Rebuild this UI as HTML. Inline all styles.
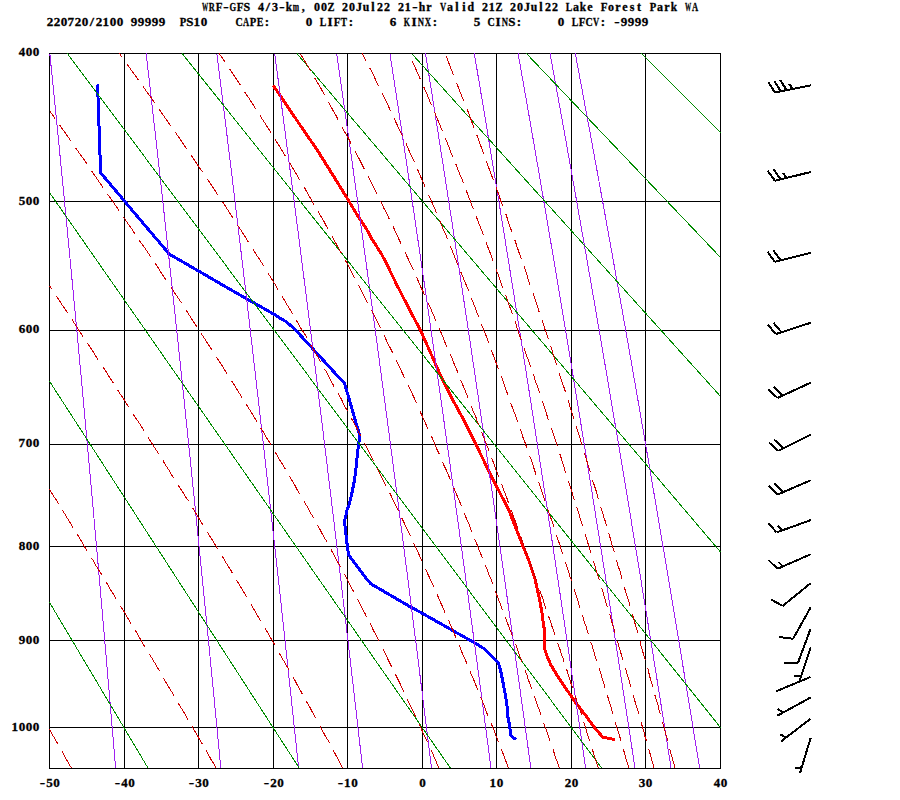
<!DOCTYPE html><html><head><meta charset="utf-8"><style>html,body{margin:0;padding:0;background:#fff;width:900px;height:800px;overflow:hidden}svg{display:block}</style></head><body><svg width="900" height="800" viewBox="0 0 900 800"><rect width="900" height="800" fill="#fff"/><path d="M124.5 53V768 M198.5 53V768 M273.5 53V768 M347.5 53V768 M422.5 53V768 M496.5 53V768 M571.5 53V768 M645.5 53V768 M49 201.5H720 M49 330.5H720 M49 444.5H720 M49 546.5H720 M49 640.5H720 M49 727.5H720" stroke="#000" stroke-width="1" fill="none" shape-rendering="crispEdges"/><rect x="49.5" y="53.5" width="671" height="715" stroke="#000" stroke-width="1" fill="none" shape-rendering="crispEdges"/><path d="M273.10 85.30 L286.60 105.00 L300.00 125.00 L317.20 150.00 L329.70 170.00 L337.50 182.50 L349.00 201.25 L357.20 215.00 L365.60 227.50 L372.50 240.00 L380.60 252.50 L384.70 260.00 L396.90 285.00 L409.40 309.40 L420.60 330.60 L431.25 354.40 L440.30 375.00 L452.50 399.40 L463.75 420.00 L475.60 443.75 L485.90 465.00 L497.80 488.75 L508.75 510.00 L518.10 533.75 L523.10 546.50 L529.10 561.25 L535.00 578.75 L536.90 587.50 L539.70 600.00 L541.90 612.50 L543.40 624.40 L544.40 629.40 L544.50 640.60 L544.40 648.10 L547.50 657.50 L550.90 665.00 L558.40 677.50 L566.90 690.00 L575.60 702.50 L587.20 717.50 L594.40 727.50 L601.90 736.25 L602.80 737.50 L607.50 738.10 L615.00 739.50" stroke="#f00" stroke-width="3" fill="none" stroke-linejoin="round" shape-rendering="crispEdges"/><path d="M97.50 84.50 L98.50 110.00 L99.50 140.00 L100.60 172.80 L124.70 201.25 L131.90 210.00 L153.10 235.00 L165.90 250.00 L168.10 253.10 L170.00 254.50 L198.50 271.00 L225.00 286.40 L245.25 298.00 L273.75 314.10 L280.00 318.25 L286.75 322.00 L296.10 330.60 L313.00 349.00 L325.90 363.10 L334.40 372.50 L344.40 382.80 L360.00 436.50 L358.50 444.50 L357.50 453.50 L356.50 463.00 L355.50 472.50 L354.50 480.00 L353.50 485.00 L351.50 495.00 L349.00 505.00 L347.00 510.00 L346.00 515.00 L344.50 521.50 L345.50 530.00 L346.25 537.50 L347.50 547.50 L348.50 554.75 L356.75 566.00 L366.50 578.75 L371.00 584.00 L381.50 590.00 L394.25 597.50 L411.00 607.25 L422.25 613.25 L449.25 628.60 L472.75 641.75 L483.25 648.10 L498.25 662.40 L500.50 670.00 L501.50 675.00 L503.50 685.00 L505.50 696.00 L507.50 709.00 L507.50 715.00 L509.00 722.50 L510.50 732.50 L511.00 736.00 L516.00 739.50" stroke="#00f" stroke-width="3" fill="none" stroke-linejoin="round" shape-rendering="crispEdges"/><path d="M49.80 53.50 L50.57 61.01 L51.37 68.94 L52.17 76.81 L52.95 84.61 L53.73 92.35 L54.50 100.02 L55.26 107.62 L56.02 115.17 L56.76 122.65 L57.50 130.07 L58.23 137.44 L58.95 144.75 L59.67 152.00 L60.38 159.19 L61.08 166.33 L61.78 173.42 L62.47 180.45 L63.15 187.44 L63.82 194.37 L64.49 201.25 L65.16 208.08 L65.82 214.87 L66.47 221.61 L67.11 228.30 L67.75 234.94 L68.39 241.54 L69.02 248.10 L69.64 254.61 L70.26 261.08 L70.87 267.51 L71.48 273.90 L72.09 280.24 L72.69 286.54 L73.28 292.81 L73.87 299.04 L74.45 305.22 L75.03 311.37 L75.61 317.48 L76.18 323.56 L76.75 329.60 L77.31 335.60 L77.87 341.57 L78.42 347.50 L78.97 353.40 L79.52 359.26 L80.06 365.09 L80.60 370.89 L81.13 376.65 L81.66 382.39 L82.19 388.09 L82.71 393.76 L83.23 399.40 L83.74 405.01 L84.26 410.59 L84.76 416.14 L85.27 421.66 L85.77 427.15 L86.27 432.61 L86.76 438.04 L87.26 443.45 L87.74 448.83 L88.23 454.18 L88.71 459.51 L89.19 464.80 L89.67 470.08 L90.14 475.32 L90.61 480.54 L91.08 485.74 L91.54 490.91 L92.01 496.05 L92.46 501.18 L92.92 506.27 L93.37 511.35 L93.83 516.40 L94.27 521.42 L94.72 526.42 L95.16 531.40 L95.60 536.36 L96.04 541.30 L96.48 546.21 L96.91 551.10 L97.34 555.97 L97.77 560.82 L98.19 565.65 L98.62 570.45 L99.04 575.24 L99.45 580.00 L99.87 584.75 L100.28 589.47 L100.70 594.17 L101.11 598.86 L101.51 603.52 L101.92 608.17 L102.32 612.80 L102.72 617.40 L103.12 621.99 L103.52 626.56 L103.91 631.11 L104.31 635.65 L104.70 640.16 L105.09 644.66 L105.47 649.14 L105.86 653.60 L106.24 658.05 L106.62 662.48 L107.00 666.89 L107.38 671.28 L107.75 675.66 L108.13 680.02 L108.50 684.36 L108.87 688.69 L109.24 693.00 L109.61 697.30 L109.97 701.58 L110.33 705.84 L110.70 710.09 L111.06 714.32 L111.41 718.54 L111.77 722.74 L112.13 726.93 L112.48 731.10 L112.83 735.26 L113.18 739.40 L113.53 743.53 L113.88 747.64 L114.22 751.74 L114.57 755.83 L114.91 759.90 L115.25 763.96 L115.59 768.00 M146.16 53.50 L147.02 61.01 L147.93 68.94 L148.83 76.81 L149.72 84.61 L150.60 92.35 L151.47 100.02 L152.33 107.62 L153.18 115.17 L154.02 122.65 L154.86 130.07 L155.68 137.44 L156.50 144.75 L157.31 152.00 L158.11 159.19 L158.91 166.33 L159.70 173.42 L160.48 180.45 L161.25 187.44 L162.01 194.37 L162.77 201.25 L163.52 208.08 L164.27 214.87 L165.01 221.61 L165.74 228.30 L166.46 234.94 L167.18 241.54 L167.90 248.10 L168.60 254.61 L169.30 261.08 L170.00 267.51 L170.69 273.90 L171.37 280.24 L172.05 286.54 L172.72 292.81 L173.39 299.04 L174.05 305.22 L174.71 311.37 L175.36 317.48 L176.01 323.56 L176.65 329.60 L177.29 335.60 L177.92 341.57 L178.55 347.50 L179.18 353.40 L179.80 359.26 L180.41 365.09 L181.02 370.89 L181.63 376.65 L182.23 382.39 L182.83 388.09 L183.42 393.76 L184.01 399.40 L184.59 405.01 L185.17 410.59 L185.75 416.14 L186.32 421.66 L186.89 427.15 L187.46 432.61 L188.02 438.04 L188.58 443.45 L189.14 448.83 L189.69 454.18 L190.24 459.51 L190.78 464.80 L191.32 470.08 L191.86 475.32 L192.39 480.54 L192.92 485.74 L193.45 490.91 L193.98 496.05 L194.50 501.18 L195.02 506.27 L195.53 511.35 L196.04 516.40 L196.55 521.42 L197.06 526.42 L197.56 531.40 L198.06 536.36 L198.56 541.30 L199.06 546.21 L199.55 551.10 L200.04 555.97 L200.53 560.82 L201.01 565.65 L201.49 570.45 L201.97 575.24 L202.45 580.00 L202.92 584.75 L203.39 589.47 L203.86 594.17 L204.32 598.86 L204.79 603.52 L205.25 608.17 L205.71 612.80 L206.16 617.40 L206.62 621.99 L207.07 626.56 L207.52 631.11 L207.97 635.65 L208.41 640.16 L208.85 644.66 L209.29 649.14 L209.73 653.60 L210.17 658.05 L210.60 662.48 L211.03 666.89 L211.46 671.28 L211.89 675.66 L212.32 680.02 L212.74 684.36 L213.16 688.69 L213.58 693.00 L214.00 697.30 L214.42 701.58 L214.83 705.84 L215.24 710.09 L215.65 714.32 L216.06 718.54 L216.47 722.74 L216.87 726.93 L217.27 731.10 L217.67 735.26 L218.07 739.40 L218.47 743.53 L218.87 747.64 L219.26 751.74 L219.65 755.83 L220.04 759.90 L220.43 763.96 L220.82 768.00 M216.86 53.50 L217.80 61.01 L218.79 68.94 L219.77 76.81 L220.74 84.61 L221.70 92.35 L222.65 100.02 L223.59 107.62 L224.52 115.17 L225.44 122.65 L226.35 130.07 L227.26 137.44 L228.15 144.75 L229.04 152.00 L229.91 159.19 L230.78 166.33 L231.64 173.42 L232.49 180.45 L233.34 187.44 L234.17 194.37 L235.00 201.25 L235.83 208.08 L236.64 214.87 L237.45 221.61 L238.25 228.30 L239.04 234.94 L239.83 241.54 L240.61 248.10 L241.38 254.61 L242.15 261.08 L242.91 267.51 L243.66 273.90 L244.41 280.24 L245.15 286.54 L245.89 292.81 L246.62 299.04 L247.34 305.22 L248.06 311.37 L248.78 317.48 L249.49 323.56 L250.19 329.60 L250.89 335.60 L251.58 341.57 L252.27 347.50 L252.95 353.40 L253.63 359.26 L254.30 365.09 L254.97 370.89 L255.63 376.65 L256.29 382.39 L256.94 388.09 L257.59 393.76 L258.24 399.40 L258.88 405.01 L259.52 410.59 L260.15 416.14 L260.78 421.66 L261.40 427.15 L262.02 432.61 L262.64 438.04 L263.25 443.45 L263.86 448.83 L264.46 454.18 L265.06 459.51 L265.66 464.80 L266.25 470.08 L266.84 475.32 L267.43 480.54 L268.01 485.74 L268.59 490.91 L269.16 496.05 L269.73 501.18 L270.30 506.27 L270.87 511.35 L271.43 516.40 L271.99 521.42 L272.54 526.42 L273.09 531.40 L273.64 536.36 L274.19 541.30 L274.73 546.21 L275.27 551.10 L275.81 555.97 L276.34 560.82 L276.87 565.65 L277.40 570.45 L277.92 575.24 L278.45 580.00 L278.97 584.75 L279.48 589.47 L280.00 594.17 L280.51 598.86 L281.02 603.52 L281.52 608.17 L282.03 612.80 L282.53 617.40 L283.02 621.99 L283.52 626.56 L284.01 631.11 L284.50 635.65 L284.99 640.16 L285.48 644.66 L285.96 649.14 L286.44 653.60 L286.92 658.05 L287.40 662.48 L287.87 666.89 L288.34 671.28 L288.81 675.66 L289.28 680.02 L289.74 684.36 L290.21 688.69 L290.67 693.00 L291.13 697.30 L291.58 701.58 L292.04 705.84 L292.49 710.09 L292.94 714.32 L293.39 718.54 L293.83 722.74 L294.28 726.93 L294.72 731.10 L295.16 735.26 L295.60 739.40 L296.04 743.53 L296.47 747.64 L296.90 751.74 L297.33 755.83 L297.76 759.90 L298.19 763.96 L298.61 768.00 M274.66 53.50 L275.67 61.01 L276.73 68.94 L277.79 76.81 L278.83 84.61 L279.86 92.35 L280.88 100.02 L281.89 107.62 L282.88 115.17 L283.87 122.65 L284.85 130.07 L285.82 137.44 L286.78 144.75 L287.73 152.00 L288.67 159.19 L289.60 166.33 L290.53 173.42 L291.44 180.45 L292.35 187.44 L293.25 194.37 L294.14 201.25 L295.02 208.08 L295.89 214.87 L296.76 221.61 L297.62 228.30 L298.47 234.94 L299.32 241.54 L300.15 248.10 L300.98 254.61 L301.81 261.08 L302.62 267.51 L303.43 273.90 L304.24 280.24 L305.04 286.54 L305.83 292.81 L306.61 299.04 L307.39 305.22 L308.16 311.37 L308.93 317.48 L309.69 323.56 L310.45 329.60 L311.20 335.60 L311.94 341.57 L312.68 347.50 L313.42 353.40 L314.15 359.26 L314.87 365.09 L315.59 370.89 L316.30 376.65 L317.01 382.39 L317.71 388.09 L318.41 393.76 L319.10 399.40 L319.79 405.01 L320.48 410.59 L321.16 416.14 L321.83 421.66 L322.50 427.15 L323.17 432.61 L323.83 438.04 L324.49 443.45 L325.15 448.83 L325.80 454.18 L326.44 459.51 L327.08 464.80 L327.72 470.08 L328.36 475.32 L328.99 480.54 L329.61 485.74 L330.23 490.91 L330.85 496.05 L331.47 501.18 L332.08 506.27 L332.69 511.35 L333.29 516.40 L333.89 521.42 L334.49 526.42 L335.08 531.40 L335.67 536.36 L336.26 541.30 L336.85 546.21 L337.43 551.10 L338.00 555.97 L338.58 560.82 L339.15 565.65 L339.72 570.45 L340.28 575.24 L340.85 580.00 L341.40 584.75 L341.96 589.47 L342.51 594.17 L343.06 598.86 L343.61 603.52 L344.16 608.17 L344.70 612.80 L345.24 617.40 L345.77 621.99 L346.31 626.56 L346.84 631.11 L347.37 635.65 L347.89 640.16 L348.42 644.66 L348.94 649.14 L349.46 653.60 L349.97 658.05 L350.48 662.48 L350.99 666.89 L351.50 671.28 L352.01 675.66 L352.51 680.02 L353.01 684.36 L353.51 688.69 L354.01 693.00 L354.50 697.30 L354.99 701.58 L355.48 705.84 L355.97 710.09 L356.45 714.32 L356.94 718.54 L357.42 722.74 L357.90 726.93 L358.37 731.10 L358.85 735.26 L359.32 739.40 L359.79 743.53 L360.26 747.64 L360.72 751.74 L361.19 755.83 L361.65 759.90 L362.11 763.96 L362.57 768.00 M336.62 53.50 L337.71 61.01 L338.85 68.94 L339.98 76.81 L341.11 84.61 L342.21 92.35 L343.31 100.02 L344.40 107.62 L345.47 115.17 L346.54 122.65 L347.59 130.07 L348.63 137.44 L349.67 144.75 L350.69 152.00 L351.70 159.19 L352.71 166.33 L353.70 173.42 L354.69 180.45 L355.67 187.44 L356.63 194.37 L357.59 201.25 L358.54 208.08 L359.48 214.87 L360.42 221.61 L361.34 228.30 L362.26 234.94 L363.17 241.54 L364.07 248.10 L364.97 254.61 L365.86 261.08 L366.74 267.51 L367.61 273.90 L368.48 280.24 L369.34 286.54 L370.19 292.81 L371.04 299.04 L371.88 305.22 L372.71 311.37 L373.54 317.48 L374.36 323.56 L375.17 329.60 L375.98 335.60 L376.79 341.57 L377.58 347.50 L378.37 353.40 L379.16 359.26 L379.94 365.09 L380.72 370.89 L381.48 376.65 L382.25 382.39 L383.01 388.09 L383.76 393.76 L384.51 399.40 L385.25 405.01 L385.99 410.59 L386.72 416.14 L387.45 421.66 L388.18 427.15 L388.90 432.61 L389.61 438.04 L390.32 443.45 L391.03 448.83 L391.73 454.18 L392.43 459.51 L393.12 464.80 L393.81 470.08 L394.49 475.32 L395.17 480.54 L395.85 485.74 L396.52 490.91 L397.19 496.05 L397.85 501.18 L398.51 506.27 L399.17 511.35 L399.82 516.40 L400.47 521.42 L401.11 526.42 L401.76 531.40 L402.39 536.36 L403.03 541.30 L403.66 546.21 L404.29 551.10 L404.91 555.97 L405.53 560.82 L406.15 565.65 L406.76 570.45 L407.37 575.24 L407.98 580.00 L408.58 584.75 L409.18 589.47 L409.78 594.17 L410.38 598.86 L410.97 603.52 L411.56 608.17 L412.14 612.80 L412.72 617.40 L413.30 621.99 L413.88 626.56 L414.45 631.11 L415.02 635.65 L415.59 640.16 L416.16 644.66 L416.72 649.14 L417.28 653.60 L417.84 658.05 L418.39 662.48 L418.94 666.89 L419.49 671.28 L420.04 675.66 L420.58 680.02 L421.12 684.36 L421.66 688.69 L422.20 693.00 L422.73 697.30 L423.26 701.58 L423.79 705.84 L424.32 710.09 L424.84 714.32 L425.37 718.54 L425.89 722.74 L426.40 726.93 L426.92 731.10 L427.43 735.26 L427.94 739.40 L428.45 743.53 L428.96 747.64 L429.46 751.74 L429.96 755.83 L430.46 759.90 L430.96 763.96 L431.45 768.00 M389.93 53.50 L391.08 61.01 L392.30 68.94 L393.50 76.81 L394.70 84.61 L395.88 92.35 L397.04 100.02 L398.20 107.62 L399.34 115.17 L400.47 122.65 L401.60 130.07 L402.71 137.44 L403.80 144.75 L404.89 152.00 L405.97 159.19 L407.04 166.33 L408.10 173.42 L409.15 180.45 L410.19 187.44 L411.22 194.37 L412.24 201.25 L413.25 208.08 L414.25 214.87 L415.25 221.61 L416.23 228.30 L417.21 234.94 L418.18 241.54 L419.14 248.10 L420.09 254.61 L421.04 261.08 L421.97 267.51 L422.91 273.90 L423.83 280.24 L424.74 286.54 L425.65 292.81 L426.55 299.04 L427.45 305.22 L428.34 311.37 L429.22 317.48 L430.09 323.56 L430.96 329.60 L431.82 335.60 L432.68 341.57 L433.52 347.50 L434.37 353.40 L435.20 359.26 L436.04 365.09 L436.86 370.89 L437.68 376.65 L438.49 382.39 L439.30 388.09 L440.11 393.76 L440.90 399.40 L441.70 405.01 L442.48 410.59 L443.26 416.14 L444.04 421.66 L444.81 427.15 L445.58 432.61 L446.34 438.04 L447.10 443.45 L447.85 448.83 L448.60 454.18 L449.34 459.51 L450.08 464.80 L450.81 470.08 L451.54 475.32 L452.27 480.54 L452.99 485.74 L453.70 490.91 L454.42 496.05 L455.12 501.18 L455.83 506.27 L456.53 511.35 L457.22 516.40 L457.92 521.42 L458.60 526.42 L459.29 531.40 L459.97 536.36 L460.64 541.30 L461.32 546.21 L461.99 551.10 L462.65 555.97 L463.31 560.82 L463.97 565.65 L464.62 570.45 L465.28 575.24 L465.92 580.00 L466.57 584.75 L467.21 589.47 L467.85 594.17 L468.48 598.86 L469.11 603.52 L469.74 608.17 L470.36 612.80 L470.98 617.40 L471.60 621.99 L472.22 626.56 L472.83 631.11 L473.44 635.65 L474.04 640.16 L474.65 644.66 L475.25 649.14 L475.85 653.60 L476.44 658.05 L477.03 662.48 L477.62 666.89 L478.21 671.28 L478.79 675.66 L479.37 680.02 L479.95 684.36 L480.52 688.69 L481.09 693.00 L481.66 697.30 L482.23 701.58 L482.80 705.84 L483.36 710.09 L483.92 714.32 L484.48 718.54 L485.03 722.74 L485.58 726.93 L486.13 731.10 L486.68 735.26 L487.22 739.40 L487.77 743.53 L488.31 747.64 L488.85 751.74 L489.38 755.83 L489.91 759.90 L490.45 763.96 L490.97 768.00 M425.50 53.50 L426.70 61.01 L427.97 68.94 L429.22 76.81 L430.47 84.61 L431.69 92.35 L432.91 100.02 L434.11 107.62 L435.30 115.17 L436.48 122.65 L437.65 130.07 L438.80 137.44 L439.95 144.75 L441.08 152.00 L442.21 159.19 L443.32 166.33 L444.42 173.42 L445.51 180.45 L446.60 187.44 L447.67 194.37 L448.73 201.25 L449.79 208.08 L450.83 214.87 L451.87 221.61 L452.89 228.30 L453.91 234.94 L454.92 241.54 L455.92 248.10 L456.91 254.61 L457.90 261.08 L458.88 267.51 L459.84 273.90 L460.81 280.24 L461.76 286.54 L462.71 292.81 L463.65 299.04 L464.58 305.22 L465.50 311.37 L466.42 317.48 L467.33 323.56 L468.24 329.60 L469.13 335.60 L470.03 341.57 L470.91 347.50 L471.79 353.40 L472.66 359.26 L473.53 365.09 L474.39 370.89 L475.24 376.65 L476.09 382.39 L476.93 388.09 L477.77 393.76 L478.60 399.40 L479.43 405.01 L480.25 410.59 L481.06 416.14 L481.87 421.66 L482.68 427.15 L483.47 432.61 L484.27 438.04 L485.06 443.45 L485.84 448.83 L486.62 454.18 L487.40 459.51 L488.17 464.80 L488.93 470.08 L489.69 475.32 L490.45 480.54 L491.20 485.74 L491.95 490.91 L492.69 496.05 L493.43 501.18 L494.16 506.27 L494.89 511.35 L495.61 516.40 L496.34 521.42 L497.05 526.42 L497.77 531.40 L498.48 536.36 L499.18 541.30 L499.88 546.21 L500.58 551.10 L501.27 555.97 L501.96 560.82 L502.65 565.65 L503.33 570.45 L504.01 575.24 L504.69 580.00 L505.36 584.75 L506.03 589.47 L506.69 594.17 L507.35 598.86 L508.01 603.52 L508.67 608.17 L509.32 612.80 L509.97 617.40 L510.61 621.99 L511.25 626.56 L511.89 631.11 L512.53 635.65 L513.16 640.16 L513.79 644.66 L514.41 649.14 L515.04 653.60 L515.66 658.05 L516.27 662.48 L516.89 666.89 L517.50 671.28 L518.11 675.66 L518.71 680.02 L519.31 684.36 L519.91 688.69 L520.51 693.00 L521.11 697.30 L521.70 701.58 L522.29 705.84 L522.87 710.09 L523.46 714.32 L524.04 718.54 L524.62 722.74 L525.19 726.93 L525.77 731.10 L526.34 735.26 L526.91 739.40 L527.47 743.53 L528.04 747.64 L528.60 751.74 L529.16 755.83 L529.71 759.90 L530.27 763.96 L530.82 768.00 M474.30 53.50 L475.57 61.01 L476.90 68.94 L478.23 76.81 L479.54 84.61 L480.83 92.35 L482.12 100.02 L483.39 107.62 L484.65 115.17 L485.89 122.65 L487.12 130.07 L488.34 137.44 L489.55 144.75 L490.75 152.00 L491.93 159.19 L493.11 166.33 L494.27 173.42 L495.43 180.45 L496.57 187.44 L497.70 194.37 L498.83 201.25 L499.94 208.08 L501.04 214.87 L502.14 221.61 L503.22 228.30 L504.30 234.94 L505.36 241.54 L506.42 248.10 L507.47 254.61 L508.51 261.08 L509.54 267.51 L510.56 273.90 L511.58 280.24 L512.59 286.54 L513.59 292.81 L514.58 299.04 L515.57 305.22 L516.54 311.37 L517.51 317.48 L518.48 323.56 L519.43 329.60 L520.38 335.60 L521.32 341.57 L522.26 347.50 L523.19 353.40 L524.11 359.26 L525.02 365.09 L525.93 370.89 L526.84 376.65 L527.73 382.39 L528.62 388.09 L529.51 393.76 L530.39 399.40 L531.26 405.01 L532.13 410.59 L532.99 416.14 L533.84 421.66 L534.69 427.15 L535.54 432.61 L536.38 438.04 L537.21 443.45 L538.04 448.83 L538.87 454.18 L539.69 459.51 L540.50 464.80 L541.31 470.08 L542.11 475.32 L542.91 480.54 L543.71 485.74 L544.50 490.91 L545.28 496.05 L546.06 501.18 L546.84 506.27 L547.61 511.35 L548.38 516.40 L549.14 521.42 L549.90 526.42 L550.65 531.40 L551.40 536.36 L552.15 541.30 L552.89 546.21 L553.63 551.10 L554.36 555.97 L555.09 560.82 L555.82 565.65 L556.54 570.45 L557.26 575.24 L557.97 580.00 L558.68 584.75 L559.39 589.47 L560.10 594.17 L560.80 598.86 L561.49 603.52 L562.18 608.17 L562.87 612.80 L563.56 617.40 L564.24 621.99 L564.92 626.56 L565.60 631.11 L566.27 635.65 L566.94 640.16 L567.60 644.66 L568.27 649.14 L568.92 653.60 L569.58 658.05 L570.23 662.48 L570.88 666.89 L571.53 671.28 L572.17 675.66 L572.82 680.02 L573.45 684.36 L574.09 688.69 L574.72 693.00 L575.35 697.30 L575.98 701.58 L576.60 705.84 L577.22 710.09 L577.84 714.32 L578.45 718.54 L579.07 722.74 L579.68 726.93 L580.28 731.10 L580.89 735.26 L581.49 739.40 L582.09 743.53 L582.69 747.64 L583.28 751.74 L583.87 755.83 L584.46 759.90 L585.05 763.96 L585.63 768.00 M518.10 53.50 L519.43 61.01 L520.83 68.94 L522.22 76.81 L523.59 84.61 L524.95 92.35 L526.30 100.02 L527.63 107.62 L528.95 115.17 L530.25 122.65 L531.54 130.07 L532.82 137.44 L534.09 144.75 L535.35 152.00 L536.59 159.19 L537.82 166.33 L539.05 173.42 L540.25 180.45 L541.45 187.44 L542.64 194.37 L543.82 201.25 L544.99 208.08 L546.14 214.87 L547.29 221.61 L548.43 228.30 L549.56 234.94 L550.68 241.54 L551.79 248.10 L552.89 254.61 L553.98 261.08 L555.06 267.51 L556.14 273.90 L557.20 280.24 L558.26 286.54 L559.31 292.81 L560.35 299.04 L561.38 305.22 L562.41 311.37 L563.43 317.48 L564.44 323.56 L565.44 329.60 L566.44 335.60 L567.43 341.57 L568.41 347.50 L569.38 353.40 L570.35 359.26 L571.31 365.09 L572.26 370.89 L573.21 376.65 L574.15 382.39 L575.09 388.09 L576.02 393.76 L576.94 399.40 L577.86 405.01 L578.77 410.59 L579.67 416.14 L580.57 421.66 L581.46 427.15 L582.35 432.61 L583.23 438.04 L584.11 443.45 L584.98 448.83 L585.84 454.18 L586.70 459.51 L587.56 464.80 L588.41 470.08 L589.25 475.32 L590.09 480.54 L590.93 485.74 L591.76 490.91 L592.58 496.05 L593.40 501.18 L594.22 506.27 L595.03 511.35 L595.83 516.40 L596.63 521.42 L597.43 526.42 L598.22 531.40 L599.01 536.36 L599.79 541.30 L600.57 546.21 L601.35 551.10 L602.12 555.97 L602.88 560.82 L603.65 565.65 L604.41 570.45 L605.16 575.24 L605.91 580.00 L606.66 584.75 L607.40 589.47 L608.14 594.17 L608.87 598.86 L609.61 603.52 L610.33 608.17 L611.06 612.80 L611.78 617.40 L612.50 621.99 L613.21 626.56 L613.92 631.11 L614.62 635.65 L615.33 640.16 L616.03 644.66 L616.72 649.14 L617.42 653.60 L618.11 658.05 L618.79 662.48 L619.47 666.89 L620.15 671.28 L620.83 675.66 L621.50 680.02 L622.18 684.36 L622.84 688.69 L623.51 693.00 L624.17 697.30 L624.83 701.58 L625.48 705.84 L626.13 710.09 L626.78 714.32 L627.43 718.54 L628.07 722.74 L628.72 726.93 L629.35 731.10 L629.99 735.26 L630.62 739.40 L631.25 743.53 L631.88 747.64 L632.50 751.74 L633.13 755.83 L633.74 759.90 L634.36 763.96 L634.98 768.00 M550.06 53.50 L551.43 61.01 L552.88 68.94 L554.32 76.81 L555.74 84.61 L557.15 92.35 L558.54 100.02 L559.91 107.62 L561.28 115.17 L562.63 122.65 L563.97 130.07 L565.29 137.44 L566.60 144.75 L567.90 152.00 L569.19 159.19 L570.46 166.33 L571.73 173.42 L572.98 180.45 L574.22 187.44 L575.45 194.37 L576.67 201.25 L577.87 208.08 L579.07 214.87 L580.26 221.61 L581.44 228.30 L582.60 234.94 L583.76 241.54 L584.91 248.10 L586.05 254.61 L587.18 261.08 L588.30 267.51 L589.41 273.90 L590.52 280.24 L591.61 286.54 L592.70 292.81 L593.77 299.04 L594.84 305.22 L595.91 311.37 L596.96 317.48 L598.00 323.56 L599.04 329.60 L600.07 335.60 L601.10 341.57 L602.11 347.50 L603.12 353.40 L604.12 359.26 L605.12 365.09 L606.11 370.89 L607.09 376.65 L608.06 382.39 L609.03 388.09 L609.99 393.76 L610.95 399.40 L611.90 405.01 L612.84 410.59 L613.78 416.14 L614.71 421.66 L615.63 427.15 L616.55 432.61 L617.46 438.04 L618.37 443.45 L619.27 448.83 L620.17 454.18 L621.06 459.51 L621.94 464.80 L622.82 470.08 L623.70 475.32 L624.56 480.54 L625.43 485.74 L626.29 490.91 L627.14 496.05 L627.99 501.18 L628.83 506.27 L629.67 511.35 L630.51 516.40 L631.34 521.42 L632.16 526.42 L632.98 531.40 L633.80 536.36 L634.61 541.30 L635.42 546.21 L636.22 551.10 L637.02 555.97 L637.81 560.82 L638.60 565.65 L639.39 570.45 L640.17 575.24 L640.95 580.00 L641.72 584.75 L642.49 589.47 L643.26 594.17 L644.02 598.86 L644.78 603.52 L645.53 608.17 L646.28 612.80 L647.03 617.40 L647.77 621.99 L648.51 626.56 L649.24 631.11 L649.97 635.65 L650.70 640.16 L651.43 644.66 L652.15 649.14 L652.87 653.60 L653.58 658.05 L654.29 662.48 L655.00 666.89 L655.70 671.28 L656.40 675.66 L657.10 680.02 L657.80 684.36 L658.49 688.69 L659.18 693.00 L659.86 697.30 L660.54 701.58 L661.22 705.84 L661.90 710.09 L662.57 714.32 L663.24 718.54 L663.91 722.74 L664.57 726.93 L665.23 731.10 L665.89 735.26 L666.55 739.40 L667.20 743.53 L667.85 747.64 L668.50 751.74 L669.14 755.83 L669.78 759.90 L670.42 763.96 L671.06 768.00 M575.29 53.50 L576.70 61.01 L578.19 68.94 L579.66 76.81 L581.12 84.61 L582.56 92.35 L583.99 100.02 L585.41 107.62 L586.81 115.17 L588.19 122.65 L589.57 130.07 L590.93 137.44 L592.27 144.75 L593.61 152.00 L594.93 159.19 L596.24 166.33 L597.54 173.42 L598.82 180.45 L600.09 187.44 L601.36 194.37 L602.61 201.25 L603.85 208.08 L605.08 214.87 L606.30 221.61 L607.51 228.30 L608.71 234.94 L609.90 241.54 L611.07 248.10 L612.24 254.61 L613.40 261.08 L614.56 267.51 L615.70 273.90 L616.83 280.24 L617.96 286.54 L619.07 292.81 L620.18 299.04 L621.28 305.22 L622.37 311.37 L623.45 317.48 L624.52 323.56 L625.59 329.60 L626.65 335.60 L627.70 341.57 L628.74 347.50 L629.78 353.40 L630.81 359.26 L631.83 365.09 L632.85 370.89 L633.85 376.65 L634.86 382.39 L635.85 388.09 L636.84 393.76 L637.82 399.40 L638.79 405.01 L639.76 410.59 L640.72 416.14 L641.68 421.66 L642.63 427.15 L643.57 432.61 L644.51 438.04 L645.44 443.45 L646.37 448.83 L647.29 454.18 L648.20 459.51 L649.11 464.80 L650.02 470.08 L650.92 475.32 L651.81 480.54 L652.70 485.74 L653.58 490.91 L654.46 496.05 L655.33 501.18 L656.20 506.27 L657.06 511.35 L657.92 516.40 L658.77 521.42 L659.62 526.42 L660.46 531.40 L661.30 536.36 L662.13 541.30 L662.96 546.21 L663.79 551.10 L664.61 555.97 L665.42 560.82 L666.24 565.65 L667.04 570.45 L667.85 575.24 L668.64 580.00 L669.44 584.75 L670.23 589.47 L671.02 594.17 L671.80 598.86 L672.58 603.52 L673.35 608.17 L674.12 612.80 L674.89 617.40 L675.65 621.99 L676.41 626.56 L677.17 631.11 L677.92 635.65 L678.67 640.16 L679.41 644.66 L680.16 649.14 L680.89 653.60 L681.63 658.05 L682.36 662.48 L683.08 666.89 L683.81 671.28 L684.53 675.66 L685.25 680.02 L685.96 684.36 L686.67 688.69 L687.38 693.00 L688.08 697.30 L688.78 701.58 L689.48 705.84 L690.18 710.09 L690.87 714.32 L691.56 718.54 L692.24 722.74 L692.93 726.93 L693.61 731.10 L694.28 735.26 L694.96 739.40 L695.63 743.53 L696.30 747.64 L696.96 751.74 L697.62 755.83 L698.28 759.90 L698.94 763.96 L699.59 768.00" stroke="#a020f0" stroke-width="1" fill="none" shape-rendering="crispEdges"/><path d="M49.50 602.39 L147.98 768.00 M49.50 381.28 L299.19 768.00 M49.50 192.55 L450.40 768.00 M67.39 53.50 L601.60 768.00 M182.15 53.50 L720.50 727.55 M296.91 53.50 L720.50 552.02 M411.67 53.50 L720.50 396.37 M526.44 53.50 L720.50 257.41 M641.20 53.50 L720.50 132.59" stroke="#008b00" stroke-width="1" fill="none" shape-rendering="crispEdges"/><g stroke="#cd0000" stroke-width="1" fill="none" stroke-dasharray="20 8" shape-rendering="crispEdges"><path d="M71.50 768.00 L68.88 763.96 L66.69 759.90 L64.51 755.83 L62.32 751.74 L59.70 747.64 L57.52 743.53 L55.33 739.40 L52.71 735.26 L50.53 731.10 L49.50 729.13"/><path d="M216.09 768.00 L213.91 763.96 L211.29 759.90 L209.11 755.83 L206.92 751.74 L204.30 747.64 L202.12 743.53 L199.49 739.40 L197.31 735.26 L194.69 731.10 L192.50 726.93 L189.88 722.74 L187.26 718.54 L185.08 714.32 L182.46 710.09 L179.84 705.84 L177.22 701.58 L175.03 697.30 L172.41 693.00 L169.79 688.69 L167.17 684.36 L164.55 680.02 L161.93 675.66 L159.74 671.28 L157.12 666.89 L154.50 662.48 L151.88 658.05 L148.82 653.60 L146.20 649.14 L143.58 644.66 L140.96 640.16 L138.34 635.65 L135.71 631.11 L132.66 626.56 L130.04 621.99 L127.41 617.40 L124.79 612.80 L121.74 608.17 L119.11 603.52 L116.06 598.86 L113.44 594.17 L110.38 589.47 L107.76 584.75 L104.70 580.00 L102.08 575.24 L99.02 570.45 L95.96 565.65 L93.34 560.82 L90.28 555.97 L87.22 551.10 L84.17 546.21 L81.55 541.30 L78.49 536.36 L75.43 531.40 L72.37 526.42 L69.31 521.42 L66.26 516.40 L63.20 511.35 L60.14 506.27 L57.08 501.18 L53.59 496.05 L50.53 490.91 L49.50 489.17"/><path d="M342.34 768.00 L340.60 763.96 L338.41 759.90 L336.23 755.83 L334.04 751.74 L331.86 747.64 L329.68 743.53 L327.49 739.40 L324.87 735.26 L322.69 731.10 L320.50 726.93 L318.32 722.74 L316.13 718.54 L313.51 714.32 L311.33 710.09 L309.14 705.84 L306.52 701.58 L304.34 697.30 L301.72 693.00 L299.53 688.69 L296.91 684.36 L294.73 680.02 L292.11 675.66 L289.49 671.28 L287.30 666.89 L284.68 662.48 L282.06 658.05 L279.44 653.60 L277.25 649.14 L274.63 644.66 L272.01 640.16 L269.39 635.65 L266.77 631.11 L264.15 626.56 L261.53 621.99 L258.47 617.40 L255.85 612.80 L253.23 608.17 L250.61 603.52 L247.55 598.86 L244.93 594.17 L242.31 589.47 L239.25 584.75 L236.63 580.00 L233.57 575.24 L230.95 570.45 L227.89 565.65 L224.83 560.82 L222.21 555.97 L219.15 551.10 L216.09 546.21 L213.04 541.30 L209.98 536.36 L206.92 531.40 L203.86 526.42 L200.81 521.42 L197.75 516.40 L194.69 511.35 L191.63 506.27 L188.57 501.18 L185.08 496.05 L182.02 490.91 L178.53 485.74 L175.47 480.54 L171.97 475.32 L168.92 470.08 L165.42 464.80 L162.36 459.51 L158.87 454.18 L155.37 448.83 L151.88 443.45 L148.38 438.04 L145.33 432.61 L141.83 427.15 L138.34 421.66 L134.40 416.14 L130.91 410.59 L127.41 405.01 L123.92 399.40 L119.99 393.76 L116.49 388.09 L113.00 382.39 L109.07 376.65 L105.57 370.89 L101.64 365.09 L97.71 359.26 L94.21 353.40 L90.28 347.50 L86.35 341.57 L82.42 335.60 L78.49 329.60 L74.56 323.56 L70.62 317.48 L66.69 311.37 L62.32 305.22 L58.39 299.04 L54.46 292.81 L50.09 286.54 L49.50 285.60"/><path d="M438.89 768.00 L437.14 763.96 L435.39 759.90 L433.65 755.83 L431.90 751.74 L429.71 747.64 L427.97 743.53 L426.22 739.40 L424.03 735.26 L422.29 731.10 L420.54 726.93 L418.36 722.74 L416.61 718.54 L414.42 714.32 L412.68 710.09 L410.49 705.84 L408.31 701.58 L406.56 697.30 L404.38 693.00 L402.19 688.69 L400.44 684.36 L398.26 680.02 L396.08 675.66 L393.89 671.28 L391.71 666.89 L389.52 662.48 L387.34 658.05 L385.16 653.60 L382.97 649.14 L380.79 644.66 L378.60 640.16 L376.42 635.65 L373.80 631.11 L371.61 626.56 L369.43 621.99 L366.81 617.40 L364.62 612.80 L362.00 608.17 L359.82 603.52 L357.20 598.86 L355.01 594.17 L352.39 589.47 L349.77 584.75 L347.59 580.00 L344.97 575.24 L342.34 570.45 L339.72 565.65 L337.10 560.82 L334.48 555.97 L331.86 551.10 L329.24 546.21 L326.62 541.30 L323.56 536.36 L320.94 531.40 L318.32 526.42 L315.26 521.42 L312.64 516.40 L309.58 511.35 L306.96 506.27 L303.90 501.18 L300.84 496.05 L297.79 490.91 L295.16 485.74 L292.11 480.54 L289.05 475.32 L285.99 470.08 L282.93 464.80 L279.44 459.51 L276.38 454.18 L273.32 448.83 L270.26 443.45 L266.77 438.04 L263.71 432.61 L260.22 427.15 L256.72 421.66 L253.66 416.14 L250.17 410.59 L246.67 405.01 L243.18 399.40 L239.68 393.76 L236.19 388.09 L232.69 382.39 L228.76 376.65 L225.27 370.89 L221.77 365.09 L217.84 359.26 L214.35 353.40 L210.42 347.50 L206.48 341.57 L202.55 335.60 L198.62 329.60 L194.69 323.56 L190.76 317.48 L186.83 311.37 L182.89 305.22 L178.96 299.04 L174.59 292.81 L170.66 286.54 L166.29 280.24 L161.93 273.90 L157.99 267.51 L153.63 261.08 L149.26 254.61 L144.89 248.10 L140.08 241.54 L135.71 234.94 L131.35 228.30 L126.54 221.61 L122.17 214.87 L117.37 208.08 L112.56 201.25 L107.76 194.37 L102.95 187.44 L98.15 180.45 L93.34 173.42 L88.53 166.33 L83.73 159.19 L78.49 152.00 L73.25 144.75 L68.44 137.44 L63.20 130.07 L57.96 122.65 L52.71 115.17 L49.50 110.54"/><path d="M508.35 768.00 L507.04 763.96 L505.29 759.90 L503.98 755.83 L502.23 751.74 L500.48 747.64 L499.17 743.53 L497.43 739.40 L495.68 735.26 L494.37 731.10 L492.62 726.93 L490.87 722.74 L489.13 718.54 L487.38 714.32 L485.63 710.09 L484.32 705.84 L482.57 701.58 L480.83 697.30 L479.08 693.00 L477.33 688.69 L475.58 684.36 L473.84 680.02 L471.65 675.66 L469.90 671.28 L468.16 666.89 L466.41 662.48 L464.66 658.05 L462.48 653.60 L460.73 649.14 L458.98 644.66 L456.80 640.16 L455.05 635.65 L453.30 631.11 L451.12 626.56 L449.37 621.99 L447.19 617.40 L445.00 612.80 L443.26 608.17 L441.07 603.52 L438.89 598.86 L437.14 594.17 L434.96 589.47 L432.77 584.75 L430.59 580.00 L428.40 575.24 L426.22 570.45 L424.03 565.65 L421.85 560.82 L419.67 555.97 L417.48 551.10 L415.30 546.21 L412.68 541.30 L410.49 536.36 L408.31 531.40 L405.69 526.42 L403.50 521.42 L400.88 516.40 L398.70 511.35 L396.08 506.27 L393.46 501.18 L391.27 496.05 L388.65 490.91 L386.03 485.74 L383.41 480.54 L380.79 475.32 L378.17 470.08 L375.54 464.80 L372.92 459.51 L370.30 454.18 L367.24 448.83 L364.62 443.45 L362.00 438.04 L358.94 432.61 L356.32 427.15 L353.27 421.66 L350.21 416.14 L347.15 410.59 L344.09 405.01 L341.47 399.40 L338.41 393.76 L334.92 388.09 L331.86 382.39 L328.80 376.65 L325.74 370.89 L322.25 365.09 L319.19 359.26 L315.70 353.40 L312.20 347.50 L308.71 341.57 L305.65 335.60 L301.72 329.60 L298.22 323.56 L294.73 317.48 L291.23 311.37 L287.30 305.22 L283.81 299.04 L279.87 292.81 L276.38 286.54 L272.45 280.24 L268.52 273.90 L264.58 267.51 L260.65 261.08 L256.28 254.61 L252.35 248.10 L247.98 241.54 L244.05 234.94 L239.68 228.30 L235.32 221.61 L230.95 214.87 L226.58 208.08 L222.21 201.25 L217.41 194.37 L213.04 187.44 L208.23 180.45 L203.43 173.42 L198.62 166.33 L193.82 159.19 L189.01 152.00 L183.77 144.75 L178.96 137.44 L173.72 130.07 L168.48 122.65 L163.24 115.17 L157.99 107.62 L152.75 100.02 L147.07 92.35 L141.83 84.61 L136.15 76.81 L130.47 68.94 L124.79 61.01 L119.47 53.50"/><path d="M559.46 768.00 L558.15 763.96 L556.40 759.90 L555.09 755.83 L553.78 751.74 L552.47 747.64 L551.16 743.53 L549.41 739.40 L548.10 735.26 L546.79 731.10 L545.04 726.93 L543.73 722.74 L542.42 718.54 L540.67 714.32 L539.36 710.09 L537.62 705.84 L536.31 701.58 L534.56 697.30 L533.25 693.00 L531.50 688.69 L530.19 684.36 L528.44 680.02 L527.13 675.66 L525.38 671.28 L523.64 666.89 L522.33 662.48 L520.58 658.05 L518.83 653.60 L517.52 649.14 L515.77 644.66 L514.03 640.16 L512.28 635.65 L510.53 631.11 L508.78 626.56 L507.04 621.99 L505.29 617.40 L503.54 612.80 L501.79 608.17 L500.05 603.52 L498.30 598.86 L496.55 594.17 L494.80 589.47 L493.06 584.75 L491.31 580.00 L489.13 575.24 L487.38 570.45 L485.63 565.65 L483.45 560.82 L481.70 555.97 L479.51 551.10 L477.77 546.21 L475.58 541.30 L473.84 536.36 L471.65 531.40 L469.90 526.42 L467.72 521.42 L465.54 516.40 L463.35 511.35 L461.60 506.27 L459.42 501.18 L457.24 496.05 L455.05 490.91 L452.87 485.74 L450.68 480.54 L448.50 475.32 L446.31 470.08 L443.69 464.80 L441.51 459.51 L439.32 454.18 L436.70 448.83 L434.52 443.45 L432.33 438.04 L429.71 432.61 L427.09 427.15 L424.91 421.66 L422.29 416.14 L419.67 410.59 L417.05 405.01 L414.86 399.40 L412.24 393.76 L409.62 388.09 L406.56 382.39 L403.94 376.65 L401.32 370.89 L398.70 365.09 L395.64 359.26 L393.02 353.40 L389.96 347.50 L386.90 341.57 L384.28 335.60 L381.22 329.60 L378.17 323.56 L375.11 317.48 L372.05 311.37 L368.99 305.22 L365.50 299.04 L362.44 292.81 L359.38 286.54 L355.89 280.24 L352.39 273.90 L349.33 267.51 L345.84 261.08 L342.34 254.61 L338.41 248.10 L334.92 241.54 L331.42 234.94 L327.49 228.30 L324.00 221.61 L320.06 214.87 L316.13 208.08 L312.20 201.25 L308.27 194.37 L304.34 187.44 L299.97 180.45 L296.04 173.42 L291.67 166.33 L287.30 159.19 L282.93 152.00 L278.56 144.75 L273.76 137.44 L269.39 130.07 L264.58 122.65 L259.78 115.17 L254.97 107.62 L250.17 100.02 L244.93 92.35 L240.12 84.61 L234.88 76.81 L229.64 68.94 L224.39 61.01 L219.07 53.50"/><path d="M598.34 768.00 L597.03 763.96 L595.72 759.90 L594.41 755.83 L593.10 751.74 L591.78 747.64 L590.47 743.53 L589.16 739.40 L587.85 735.26 L586.54 731.10 L585.23 726.93 L583.92 722.74 L582.61 718.54 L581.30 714.32 L579.99 710.09 L578.24 705.84 L576.93 701.58 L575.62 697.30 L574.31 693.00 L573.00 688.69 L571.25 684.36 L569.94 680.02 L568.63 675.66 L567.32 671.28 L565.57 666.89 L564.26 662.48 L562.95 658.05 L561.21 653.60 L559.89 649.14 L558.15 644.66 L556.84 640.16 L555.09 635.65 L553.78 631.11 L552.03 626.56 L550.72 621.99 L548.97 617.40 L547.66 612.80 L545.92 608.17 L544.17 603.52 L542.86 598.86 L541.11 594.17 L539.36 589.47 L538.05 584.75 L536.31 580.00 L534.56 575.24 L532.81 570.45 L531.06 565.65 L529.32 560.82 L527.57 555.97 L525.82 551.10 L524.07 546.21 L522.33 541.30 L520.58 536.36 L518.83 531.40 L517.08 526.42 L515.34 521.42 L513.59 516.40 L511.84 511.35 L509.66 506.27 L507.91 501.18 L506.16 496.05 L503.98 490.91 L502.23 485.74 L500.05 480.54 L498.30 475.32 L496.11 470.08 L494.37 464.80 L492.18 459.51 L490.00 454.18 L488.25 448.83 L486.07 443.45 L483.88 438.04 L481.70 432.61 L479.51 427.15 L477.33 421.66 L475.58 416.14 L472.96 410.59 L470.78 405.01 L468.59 399.40 L466.41 393.76 L464.22 388.09 L461.60 382.39 L459.42 376.65 L457.24 370.89 L454.61 365.09 L452.43 359.26 L449.81 353.40 L447.19 347.50 L444.57 341.57 L442.38 335.60 L439.76 329.60 L437.14 323.56 L434.52 317.48 L431.90 311.37 L429.28 305.22 L426.22 299.04 L423.60 292.81 L420.54 286.54 L417.92 280.24 L414.86 273.90 L412.24 267.51 L409.18 261.08 L406.12 254.61 L403.07 248.10 L400.01 241.54 L396.95 234.94 L393.89 228.30 L390.40 221.61 L387.34 214.87 L383.84 208.08 L380.79 201.25 L377.29 194.37 L373.80 187.44 L370.30 180.45 L366.81 173.42 L362.88 166.33 L359.38 159.19 L355.45 152.00 L351.52 144.75 L348.02 137.44 L343.65 130.07 L339.72 122.65 L335.79 115.17 L331.42 107.62 L327.49 100.02 L323.12 92.35 L318.75 84.61 L313.95 76.81 L309.58 68.94 L304.78 61.01 L300.27 53.50"/><path d="M628.92 768.00 L627.61 763.96 L626.30 759.90 L625.42 755.83 L624.11 751.74 L622.80 747.64 L621.49 743.53 L620.62 739.40 L619.31 735.26 L618.00 731.10 L616.69 726.93 L615.37 722.74 L614.06 718.54 L612.75 714.32 L611.88 710.09 L610.57 705.84 L609.26 701.58 L607.95 697.30 L606.64 693.00 L605.33 688.69 L604.02 684.36 L602.71 680.02 L601.40 675.66 L600.08 671.28 L598.34 666.89 L597.03 662.48 L595.72 658.05 L594.41 653.60 L593.10 649.14 L591.78 644.66 L590.04 640.16 L588.73 635.65 L587.42 631.11 L586.11 626.56 L584.36 621.99 L583.05 617.40 L581.74 612.80 L579.99 608.17 L578.68 603.52 L577.37 598.86 L575.62 594.17 L574.31 589.47 L572.56 584.75 L571.25 580.00 L569.51 575.24 L568.19 570.45 L566.45 565.65 L565.14 560.82 L563.39 555.97 L561.64 551.10 L560.33 546.21 L558.58 541.30 L556.84 536.36 L555.09 531.40 L553.78 526.42 L552.03 521.42 L550.28 516.40 L548.54 511.35 L546.79 506.27 L545.04 501.18 L543.29 496.05 L541.55 490.91 L539.80 485.74 L538.05 480.54 L536.31 475.32 L534.56 470.08 L532.81 464.80 L531.06 459.51 L528.88 454.18 L527.13 448.83 L525.38 443.45 L523.20 438.04 L521.45 432.61 L519.70 427.15 L517.52 421.66 L515.77 416.14 L513.59 410.59 L511.40 405.01 L509.66 399.40 L507.47 393.76 L505.29 388.09 L503.54 382.39 L501.36 376.65 L499.17 370.89 L496.99 365.09 L494.80 359.26 L492.62 353.40 L490.44 347.50 L488.25 341.57 L486.07 335.60 L483.45 329.60 L481.26 323.56 L479.08 317.48 L476.46 311.37 L474.27 305.22 L471.65 299.04 L469.47 292.81 L466.85 286.54 L464.22 280.24 L461.60 273.90 L458.98 267.51 L456.36 261.08 L453.74 254.61 L451.12 248.10 L448.50 241.54 L445.88 234.94 L442.82 228.30 L440.20 221.61 L437.14 214.87 L434.52 208.08 L431.46 201.25 L428.40 194.37 L425.35 187.44 L422.29 180.45 L419.23 173.42 L416.17 166.33 L413.11 159.19 L409.62 152.00 L406.56 144.75 L403.07 137.44 L399.57 130.07 L396.08 122.65 L392.58 115.17 L389.09 107.62 L385.59 100.02 L381.66 92.35 L377.73 84.61 L374.23 76.81 L370.30 68.94 L365.93 61.01 L362.25 53.50"/><path d="M653.82 768.00 L652.94 763.96 L651.63 759.90 L650.76 755.83 L649.45 751.74 L648.14 747.64 L647.26 743.53 L645.95 739.40 L644.64 735.26 L643.77 731.10 L642.46 726.93 L641.15 722.74 L639.84 718.54 L638.96 714.32 L637.65 710.09 L636.34 705.84 L635.03 701.58 L633.72 697.30 L632.85 693.00 L631.54 688.69 L630.23 684.36 L628.92 680.02 L627.61 675.66 L626.30 671.28 L624.99 666.89 L623.67 662.48 L622.36 658.05 L621.05 653.60 L619.74 649.14 L618.43 644.66 L617.12 640.16 L615.81 635.65 L614.50 631.11 L613.19 626.56 L611.88 621.99 L610.57 617.40 L609.26 612.80 L607.95 608.17 L606.20 603.52 L604.89 598.86 L603.58 594.17 L602.27 589.47 L600.52 584.75 L599.21 580.00 L597.90 575.24 L596.15 570.45 L594.84 565.65 L593.53 560.82 L591.78 555.97 L590.47 551.10 L588.73 546.21 L587.42 541.30 L585.67 536.36 L584.36 531.40 L582.61 526.42 L581.30 521.42 L579.55 516.40 L578.24 511.35 L576.50 506.27 L574.75 501.18 L573.00 496.05 L571.69 490.91 L569.94 485.74 L568.19 480.54 L566.45 475.32 L564.70 470.08 L563.39 464.80 L561.64 459.51 L559.89 454.18 L558.15 448.83 L556.40 443.45 L554.65 438.04 L552.91 432.61 L550.72 427.15 L548.97 421.66 L547.23 416.14 L545.48 410.59 L543.73 405.01 L541.55 399.40 L539.80 393.76 L538.05 388.09 L535.87 382.39 L534.12 376.65 L531.94 370.89 L530.19 365.09 L528.00 359.26 L525.82 353.40 L524.07 347.50 L521.89 341.57 L519.70 335.60 L517.52 329.60 L515.77 323.56 L513.59 317.48 L511.40 311.37 L509.22 305.22 L507.04 299.04 L504.85 292.81 L502.23 286.54 L500.05 280.24 L497.86 273.90 L495.24 267.51 L493.06 261.08 L490.87 254.61 L488.25 248.10 L485.63 241.54 L483.45 234.94 L480.83 228.30 L478.20 221.61 L475.58 214.87 L472.96 208.08 L470.34 201.25 L467.72 194.37 L465.10 187.44 L462.48 180.45 L459.42 173.42 L456.80 166.33 L453.74 159.19 L450.68 152.00 L448.06 144.75 L445.00 137.44 L441.95 130.07 L438.89 122.65 L435.83 115.17 L432.33 107.62 L429.28 100.02 L426.22 92.35 L422.72 84.61 L419.23 76.81 L415.73 68.94 L412.24 61.01 L408.96 53.50"/><path d="M674.79 768.00 L673.91 763.96 L672.60 759.90 L671.73 755.83 L670.42 751.74 L669.54 747.64 L668.23 743.53 L667.36 739.40 L666.05 735.26 L665.18 731.10 L663.86 726.93 L662.55 722.74 L661.68 718.54 L660.37 714.32 L659.06 710.09 L658.19 705.84 L656.88 701.58 L655.56 697.30 L654.25 693.00 L653.38 688.69 L652.07 684.36 L650.76 680.02 L649.45 675.66 L648.58 671.28 L647.26 666.89 L645.95 662.48 L644.64 658.05 L643.33 653.60 L642.02 649.14 L640.71 644.66 L639.84 640.16 L638.53 635.65 L637.22 631.11 L635.91 626.56 L634.60 621.99 L633.29 617.40 L631.97 612.80 L630.66 608.17 L629.35 603.52 L628.04 598.86 L626.30 594.17 L624.99 589.47 L623.67 584.75 L622.36 580.00 L621.05 575.24 L619.74 570.45 L618.00 565.65 L616.69 560.82 L615.37 555.97 L614.06 551.10 L612.32 546.21 L611.01 541.30 L609.70 536.36 L607.95 531.40 L606.64 526.42 L605.33 521.42 L603.58 516.40 L602.27 511.35 L600.52 506.27 L599.21 501.18 L597.46 496.05 L596.15 490.91 L594.41 485.74 L592.66 480.54 L591.35 475.32 L589.60 470.08 L587.85 464.80 L586.54 459.51 L584.80 454.18 L583.05 448.83 L581.30 443.45 L579.99 438.04 L578.24 432.61 L576.50 427.15 L574.75 421.66 L573.00 416.14 L571.25 410.59 L569.51 405.01 L567.76 399.40 L566.01 393.76 L564.26 388.09 L562.08 382.39 L560.33 376.65 L558.58 370.89 L556.84 365.09 L554.65 359.26 L552.91 353.40 L551.16 347.50 L548.97 341.57 L547.23 335.60 L545.04 329.60 L543.29 323.56 L541.11 317.48 L538.93 311.37 L537.18 305.22 L534.99 299.04 L532.81 292.81 L530.63 286.54 L528.44 280.24 L526.69 273.90 L524.51 267.51 L522.33 261.08 L519.70 254.61 L517.52 248.10 L515.34 241.54 L513.15 234.94 L510.53 228.30 L508.35 221.61 L506.16 214.87 L503.54 208.08 L500.92 201.25 L498.74 194.37 L496.11 187.44 L493.49 180.45 L490.87 173.42 L488.25 166.33 L485.63 159.19 L483.01 152.00 L480.39 144.75 L477.77 137.44 L474.71 130.07 L472.09 122.65 L469.47 115.17 L466.41 107.62 L463.35 100.02 L460.29 92.35 L457.24 84.61 L454.18 76.81 L451.12 68.94 L448.06 61.01 L445.19 53.50"/></g><g font-family="Liberation Serif" font-weight="bold" fill="#000" stroke="#000" stroke-width="0.3"><text font-size="12.00" transform="matrix(0.515 0 0 1 201.91 11.00)">W</text><text font-size="12.00" transform="matrix(0.700 0 0 1 208.86 11.00)">R</text><text font-size="12.00" transform="matrix(0.916 0 0 1 215.81 11.00)">F</text><text font-size="12.00" transform="matrix(1.347 0 0 1 223.31 11.00)">-</text><text font-size="12.00" transform="matrix(0.713 0 0 1 229.58 11.00)">G</text><text font-size="12.00" transform="matrix(0.916 0 0 1 236.81 11.00)">F</text><text font-size="12.00" transform="matrix(1.000 0 0 1 243.60 11.00)">S</text><text font-size="12.00" transform="matrix(1.000 0 0 1 258.03 11.00)">4</text><text font-size="12.00" transform="matrix(1.287 0 0 1 265.85 11.00)">/</text><text font-size="12.00" transform="matrix(1.000 0 0 1 271.98 11.00)">3</text><text font-size="12.00" transform="matrix(1.347 0 0 1 279.31 11.00)">-</text><text font-size="12.00" transform="matrix(0.944 0 0 1 285.72 11.00)">k</text><text font-size="12.00" transform="matrix(0.634 0 0 1 292.80 11.00)">m</text><text font-size="12.00" transform="matrix(1.000 0 0 1 301.65 11.00)">,</text><text font-size="12.00" transform="matrix(1.000 0 0 1 314.00 11.00)">0</text><text font-size="12.00" transform="matrix(1.000 0 0 1 321.00 11.00)">0</text><text font-size="12.00" transform="matrix(0.880 0 0 1 327.49 11.00)">Z</text><text font-size="12.00" transform="matrix(1.000 0 0 1 342.01 11.00)">2</text><text font-size="12.00" transform="matrix(1.000 0 0 1 349.00 11.00)">0</text><text font-size="12.00" transform="matrix(1.000 0 0 1 355.90 11.00)">J</text><text font-size="12.00" transform="matrix(0.972 0 0 1 362.82 11.00)">u</text><text font-size="12.00" transform="matrix(1.000 0 0 1 371.32 11.00)">l</text><text font-size="12.00" transform="matrix(1.000 0 0 1 377.01 11.00)">2</text><text font-size="12.00" transform="matrix(1.000 0 0 1 384.01 11.00)">2</text><text font-size="12.00" transform="matrix(1.000 0 0 1 398.01 11.00)">2</text><text font-size="12.00" transform="matrix(1.000 0 0 1 404.83 11.00)">1</text><text font-size="12.00" transform="matrix(1.347 0 0 1 412.31 11.00)">-</text><text font-size="12.00" transform="matrix(0.969 0 0 1 418.71 11.00)">h</text><text font-size="12.00" transform="matrix(1.000 0 0 1 426.30 11.00)">r</text><text font-size="12.00" transform="matrix(0.715 0 0 1 439.90 11.00)">V</text><text font-size="12.00" transform="matrix(1.000 0 0 1 446.90 11.00)">a</text><text font-size="12.00" transform="matrix(1.000 0 0 1 455.32 11.00)">l</text><text font-size="12.00" transform="matrix(1.000 0 0 1 462.29 11.00)">i</text><text font-size="12.00" transform="matrix(0.991 0 0 1 467.52 11.00)">d</text><text font-size="12.00" transform="matrix(1.000 0 0 1 482.01 11.00)">2</text><text font-size="12.00" transform="matrix(1.000 0 0 1 488.83 11.00)">1</text><text font-size="12.00" transform="matrix(0.880 0 0 1 495.49 11.00)">Z</text><text font-size="12.00" transform="matrix(1.000 0 0 1 510.01 11.00)">2</text><text font-size="12.00" transform="matrix(1.000 0 0 1 517.00 11.00)">0</text><text font-size="12.00" transform="matrix(1.000 0 0 1 523.90 11.00)">J</text><text font-size="12.00" transform="matrix(0.972 0 0 1 530.82 11.00)">u</text><text font-size="12.00" transform="matrix(1.000 0 0 1 539.32 11.00)">l</text><text font-size="12.00" transform="matrix(1.000 0 0 1 545.01 11.00)">2</text><text font-size="12.00" transform="matrix(1.000 0 0 1 552.01 11.00)">2</text><text font-size="12.00" transform="matrix(0.822 0 0 1 565.83 11.00)">L</text><text font-size="12.00" transform="matrix(1.000 0 0 1 572.90 11.00)">a</text><text font-size="12.00" transform="matrix(0.944 0 0 1 579.72 11.00)">k</text><text font-size="12.00" transform="matrix(1.000 0 0 1 587.29 11.00)">e</text><text font-size="12.00" transform="matrix(0.916 0 0 1 600.81 11.00)">F</text><text font-size="12.00" transform="matrix(1.000 0 0 1 608.00 11.00)">o</text><text font-size="12.00" transform="matrix(1.000 0 0 1 615.30 11.00)">r</text><text font-size="12.00" transform="matrix(1.000 0 0 1 622.29 11.00)">e</text><text font-size="12.00" transform="matrix(1.000 0 0 1 629.63 11.00)">s</text><text font-size="12.00" transform="matrix(1.000 0 0 1 636.93 11.00)">t</text><text font-size="12.00" transform="matrix(0.884 0 0 1 649.82 11.00)">P</text><text font-size="12.00" transform="matrix(1.000 0 0 1 656.90 11.00)">a</text><text font-size="12.00" transform="matrix(1.000 0 0 1 664.30 11.00)">r</text><text font-size="12.00" transform="matrix(0.944 0 0 1 670.72 11.00)">k</text><text font-size="12.00" transform="matrix(0.515 0 0 1 684.91 11.00)">W</text><text font-size="12.00" transform="matrix(0.709 0 0 1 691.92 11.00)">A</text><text font-size="13.10" transform="matrix(1.000 0 0 1 46.73 26.00)">2</text><text font-size="13.10" transform="matrix(1.000 0 0 1 53.73 26.00)">2</text><text font-size="13.10" transform="matrix(1.000 0 0 1 60.73 26.00)">0</text><text font-size="13.10" transform="matrix(1.000 0 0 1 67.51 26.00)">7</text><text font-size="13.10" transform="matrix(1.000 0 0 1 74.73 26.00)">2</text><text font-size="13.10" transform="matrix(1.000 0 0 1 81.72 26.00)">0</text><text font-size="13.10" transform="matrix(1.179 0 0 1 89.85 26.00)">/</text><text font-size="13.10" transform="matrix(1.000 0 0 1 95.73 26.00)">2</text><text font-size="13.10" transform="matrix(1.000 0 0 1 102.54 26.00)">1</text><text font-size="13.10" transform="matrix(1.000 0 0 1 109.72 26.00)">0</text><text font-size="13.10" transform="matrix(1.000 0 0 1 116.72 26.00)">0</text><text font-size="13.10" transform="matrix(1.000 0 0 1 130.78 26.00)">9</text><text font-size="13.10" transform="matrix(1.000 0 0 1 137.78 26.00)">9</text><text font-size="13.10" transform="matrix(1.000 0 0 1 144.78 26.00)">9</text><text font-size="13.10" transform="matrix(1.000 0 0 1 151.78 26.00)">9</text><text font-size="13.10" transform="matrix(1.000 0 0 1 158.78 26.00)">9</text><text font-size="13.10" transform="matrix(0.810 0 0 1 179.82 26.00)">P</text><text font-size="13.10" transform="matrix(0.995 0 0 1 186.31 26.00)">S</text><text font-size="13.10" transform="matrix(1.000 0 0 1 193.54 26.00)">1</text><text font-size="13.10" transform="matrix(1.000 0 0 1 200.72 26.00)">0</text><text font-size="13.10" transform="matrix(0.767 0 0 1 235.51 26.00)">C</text><text font-size="13.10" transform="matrix(0.650 0 0 1 242.92 26.00)">A</text><text font-size="13.10" transform="matrix(0.810 0 0 1 249.82 26.00)">P</text><text font-size="13.10" transform="matrix(0.765 0 0 1 256.83 26.00)">E</text><text font-size="13.10" transform="matrix(1.000 0 0 1 264.87 26.00)">:</text><text font-size="13.10" transform="matrix(1.000 0 0 1 305.73 26.00)">0</text><text font-size="13.10" transform="matrix(0.753 0 0 1 319.83 26.00)">L</text><text font-size="13.10" transform="matrix(1.000 0 0 1 327.45 26.00)">I</text><text font-size="13.10" transform="matrix(0.839 0 0 1 333.81 26.00)">F</text><text font-size="13.10" transform="matrix(0.720 0 0 1 340.85 26.00)">T</text><text font-size="13.10" transform="matrix(1.000 0 0 1 348.87 26.00)">:</text><text font-size="13.10" transform="matrix(1.000 0 0 1 389.69 26.00)">6</text><text font-size="13.10" transform="matrix(0.608 0 0 1 403.86 26.00)">K</text><text font-size="13.10" transform="matrix(1.000 0 0 1 411.45 26.00)">I</text><text font-size="13.10" transform="matrix(0.664 0 0 1 417.83 26.00)">N</text><text font-size="13.10" transform="matrix(0.662 0 0 1 424.84 26.00)">X</text><text font-size="13.10" transform="matrix(1.000 0 0 1 432.87 26.00)">:</text><text font-size="13.10" transform="matrix(1.000 0 0 1 473.70 26.00)">5</text><text font-size="13.10" transform="matrix(0.767 0 0 1 487.51 26.00)">C</text><text font-size="13.10" transform="matrix(1.000 0 0 1 495.45 26.00)">I</text><text font-size="13.10" transform="matrix(0.664 0 0 1 501.83 26.00)">N</text><text font-size="13.10" transform="matrix(0.995 0 0 1 508.31 26.00)">S</text><text font-size="13.10" transform="matrix(1.000 0 0 1 516.87 26.00)">:</text><text font-size="13.10" transform="matrix(1.000 0 0 1 557.73 26.00)">0</text><text font-size="13.10" transform="matrix(0.753 0 0 1 571.83 26.00)">L</text><text font-size="13.10" transform="matrix(0.839 0 0 1 578.81 26.00)">F</text><text font-size="13.10" transform="matrix(0.767 0 0 1 585.51 26.00)">C</text><text font-size="13.10" transform="matrix(0.655 0 0 1 592.90 26.00)">V</text><text font-size="13.10" transform="matrix(1.000 0 0 1 600.87 26.00)">:</text><text font-size="13.10" transform="matrix(1.234 0 0 1 614.31 26.00)">-</text><text font-size="13.10" transform="matrix(1.000 0 0 1 620.78 26.00)">9</text><text font-size="13.10" transform="matrix(1.000 0 0 1 627.78 26.00)">9</text><text font-size="13.10" transform="matrix(1.000 0 0 1 634.78 26.00)">9</text><text font-size="13.10" transform="matrix(1.000 0 0 1 641.78 26.00)">9</text><text font-size="13.10" transform="matrix(0.979 0 0 1 18.82 56.00)">4</text><text font-size="13.10" transform="matrix(1.000 0 0 1 25.73 56.00)">0</text><text font-size="13.10" transform="matrix(1.000 0 0 1 32.73 56.00)">0</text><text font-size="13.10" transform="matrix(1.000 0 0 1 18.70 205.00)">5</text><text font-size="13.10" transform="matrix(1.000 0 0 1 25.73 205.00)">0</text><text font-size="13.10" transform="matrix(1.000 0 0 1 32.73 205.00)">0</text><text font-size="13.10" transform="matrix(1.000 0 0 1 18.69 333.00)">6</text><text font-size="13.10" transform="matrix(1.000 0 0 1 25.73 333.00)">0</text><text font-size="13.10" transform="matrix(1.000 0 0 1 32.73 333.00)">0</text><text font-size="13.10" transform="matrix(1.000 0 0 1 18.51 447.00)">7</text><text font-size="13.10" transform="matrix(1.000 0 0 1 25.73 447.00)">0</text><text font-size="13.10" transform="matrix(1.000 0 0 1 32.73 447.00)">0</text><text font-size="13.10" transform="matrix(1.000 0 0 1 18.73 550.00)">8</text><text font-size="13.10" transform="matrix(1.000 0 0 1 25.73 550.00)">0</text><text font-size="13.10" transform="matrix(1.000 0 0 1 32.73 550.00)">0</text><text font-size="13.10" transform="matrix(1.000 0 0 1 18.78 644.00)">9</text><text font-size="13.10" transform="matrix(1.000 0 0 1 25.73 644.00)">0</text><text font-size="13.10" transform="matrix(1.000 0 0 1 32.73 644.00)">0</text><text font-size="13.10" transform="matrix(1.000 0 0 1 11.54 731.00)">1</text><text font-size="13.10" transform="matrix(1.000 0 0 1 18.73 731.00)">0</text><text font-size="13.10" transform="matrix(1.000 0 0 1 25.73 731.00)">0</text><text font-size="13.10" transform="matrix(1.000 0 0 1 32.73 731.00)">0</text><text font-size="13.10" transform="matrix(1.234 0 0 1 39.81 787.00)">-</text><text font-size="13.10" transform="matrix(1.000 0 0 1 46.20 787.00)">5</text><text font-size="13.10" transform="matrix(1.000 0 0 1 53.23 787.00)">0</text><text font-size="13.10" transform="matrix(1.234 0 0 1 114.81 787.00)">-</text><text font-size="13.10" transform="matrix(0.979 0 0 1 121.32 787.00)">4</text><text font-size="13.10" transform="matrix(1.000 0 0 1 128.22 787.00)">0</text><text font-size="13.10" transform="matrix(1.234 0 0 1 188.81 787.00)">-</text><text font-size="13.10" transform="matrix(1.000 0 0 1 195.20 787.00)">3</text><text font-size="13.10" transform="matrix(1.000 0 0 1 202.22 787.00)">0</text><text font-size="13.10" transform="matrix(1.234 0 0 1 263.81 787.00)">-</text><text font-size="13.10" transform="matrix(1.000 0 0 1 270.23 787.00)">2</text><text font-size="13.10" transform="matrix(1.000 0 0 1 277.23 787.00)">0</text><text font-size="13.10" transform="matrix(1.234 0 0 1 337.81 787.00)">-</text><text font-size="13.10" transform="matrix(1.000 0 0 1 344.04 787.00)">1</text><text font-size="13.10" transform="matrix(1.000 0 0 1 351.23 787.00)">0</text><text font-size="13.10" transform="matrix(1.000 0 0 1 419.23 787.00)">0</text><text font-size="13.10" transform="matrix(1.000 0 0 1 489.54 787.00)">1</text><text font-size="13.10" transform="matrix(1.000 0 0 1 496.73 787.00)">0</text><text font-size="13.10" transform="matrix(1.000 0 0 1 564.73 787.00)">2</text><text font-size="13.10" transform="matrix(1.000 0 0 1 571.73 787.00)">0</text><text font-size="13.10" transform="matrix(1.000 0 0 1 638.70 787.00)">3</text><text font-size="13.10" transform="matrix(1.000 0 0 1 645.73 787.00)">0</text><text font-size="13.10" transform="matrix(0.979 0 0 1 713.82 787.00)">4</text><text font-size="13.10" transform="matrix(1.000 0 0 1 720.73 787.00)">0</text></g><path d="M810.75 85.40L774.90 92.40 M774.90 92.40L768.31 82.27 M780.79 91.25L774.20 81.12 M786.68 90.10L780.08 79.97 M792.57 88.95L789.27 83.88 M810.75 172.00L774.90 180.75 M774.90 180.75L767.78 170.84 M780.73 179.33L773.61 169.42 M786.56 177.90L783.00 172.95 M810.75 252.75L774.90 261.85 M774.90 261.85L767.67 251.99 M780.72 260.37L773.49 250.51 M810.75 322.75L775.75 334.10 M775.75 334.10L767.79 324.60 M781.46 332.25L773.50 322.75 M810.75 382.60L777.50 398.00 M777.50 398.00L768.21 389.29 M782.94 395.48L773.65 386.77 M810.75 434.75L778.40 450.85 M778.40 450.85L768.81 442.35 M783.77 448.18L774.18 439.68 M810.75 480.25L777.50 494.60 M777.50 494.60L768.50 485.70 M783.01 492.22L774.00 483.33 M810.75 520.10L776.60 532.40 M776.60 532.40L768.28 523.10 M782.25 530.37L778.08 525.71 M810.75 554.25L777.50 568.80 M777.50 568.80L768.44 559.94 M783.00 566.39L778.47 561.96 M810.75 583.10L782.75 605.90 M782.75 605.90L770.93 599.39 M810.60 607.50L793.10 638.75 M793.10 638.75L778.88 636.94 M810.60 628.75L798.10 662.50 M798.10 662.50L783.71 662.92 M810.60 647.50L799.40 681.25 M801.29 675.56L794.11 676.01 M810.60 676.90L776.25 691.25 M810.60 697.50L777.50 715.60 M782.76 712.72L777.76 708.62 M810.60 718.75L781.25 741.25 M786.01 737.60L780.24 734.19 M810.60 738.10L800.00 773.10 M801.74 767.36L794.59 768.00" stroke="#000" stroke-width="2" fill="none" stroke-linecap="butt" shape-rendering="crispEdges"/></svg></body></html>
